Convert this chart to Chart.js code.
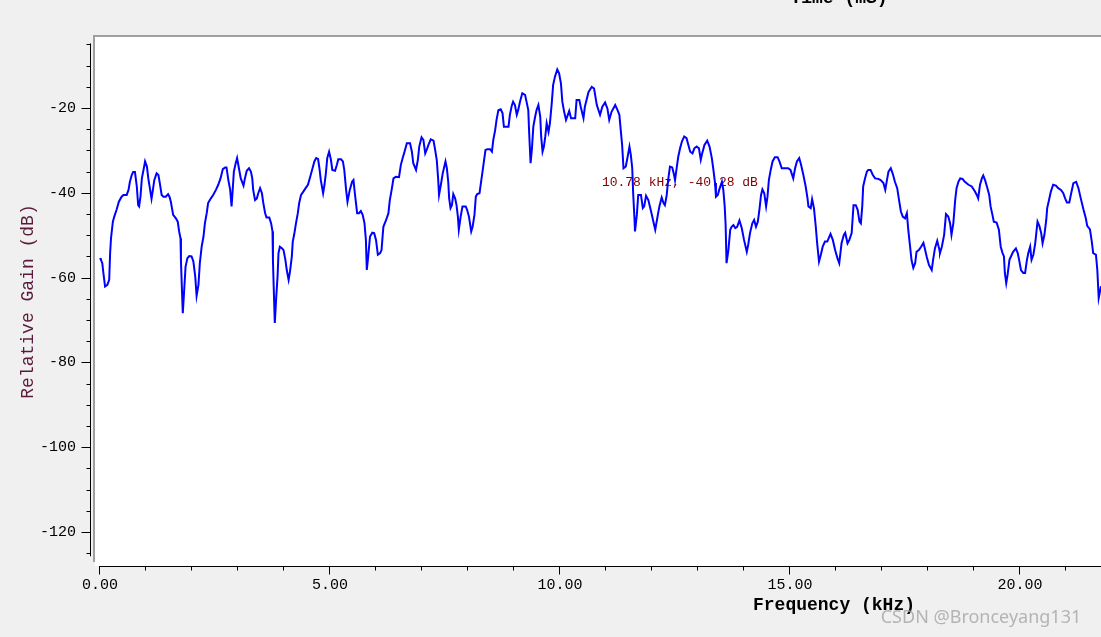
<!DOCTYPE html>
<html>
<head>
<meta charset="utf-8">
<title>Relative Gain vs Frequency</title>
<script src="https://cdn.jsdelivr.net/npm/chart.js@4.4.1/dist/chart.umd.min.js"></script>
<style>
  html, body { margin: 0; padding: 0; background: #f0f0f0; }
  #wrap { width: 1101px; height: 637px; }
</style>
</head>
<body>
<div id="wrap"><canvas id="spectrumChart" width="1101" height="637"></canvas></div>
<script>
// --- Data ---
const freqKHz = [
  0.00,0.02,0.05,0.07,0.11,0.16,0.20,0.22,0.24,0.28,0.31,0.36,0.41,0.47,0.51,0.58,0.62,0.65,0.69,0.72,
  0.76,0.80,0.83,0.85,0.88,0.91,0.96,0.98,1.02,1.05,1.09,1.12,1.15,1.18,1.23,1.27,1.30,1.34,1.38,1.43,
  1.48,1.51,1.54,1.59,1.65,1.69,1.72,1.75,1.76,1.78,1.80,1.83,1.86,1.90,1.94,1.99,2.03,2.07,2.10,2.14,
  2.17,2.21,2.25,2.28,2.32,2.35,2.41,2.46,2.52,2.57,2.62,2.67,2.72,2.75,2.79,2.83,2.86,2.88,2.91,2.95,
  2.98,3.02,3.06,3.12,3.15,3.19,3.24,3.28,3.31,3.33,3.37,3.41,3.44,3.48,3.52,3.55,3.59,3.62,3.68,3.72,
  3.75,3.76,3.78,3.80,3.83,3.86,3.88,3.91,3.96,3.99,4.03,4.06,4.10,4.13,4.17,4.19,4.22,4.26,4.30,4.33,
  4.37,4.42,4.47,4.52,4.57,4.62,4.66,4.70,4.74,4.77,4.80,4.85,4.88,4.91,4.94,4.98,5.02,5.05,5.11,5.15,
  5.18,5.24,
  5.28,5.31,5.35,5.38,5.43,5.48,5.51,5.54,5.59,5.63,5.67,5.71,5.75,5.78,5.80,5.83,5.87,5.92,5.96,6.00,
  6.04,6.09,6.12,6.16,6.22,6.27,6.30,6.34,6.38,6.43,6.50,6.54,6.58,6.62,6.67,6.74,6.78,6.81,6.87,6.91,
  6.94,6.99,7.03,7.07,7.10,7.14,7.19,7.25,7.28,7.32,7.35,7.37,7.41,7.45,7.51,7.54,7.57,7.59,7.62,7.65,
  7.68,7.72,7.75,7.78,7.80,7.84,7.88,7.95,7.98,8.02,8.07,8.10,8.14,8.17,8.20,8.25,8.28,8.31,8.35,8.38,
  8.42,8.48,8.52,8.55,8.59,8.62,8.66,8.71,8.75,8.78,8.84,8.88,8.91,8.95,8.98,9.02,9.06,9.09,9.13,9.18,
  9.24,9.28,9.31,9.33,9.36,9.39,9.42,9.46,9.49,9.53,9.57,9.59,9.62,9.65,9.68,9.71,9.75,9.78,9.82,9.85,
  9.89,9.94,9.98,10.02,10.05,10.09,10.13,10.17,10.20,10.24,10.33,10.36,10.42,10.45,
  10.51,10.54,10.62,10.69,10.74,10.80,10.87,10.92,10.98,11.03,11.07,11.12,11.20,11.25,11.29,11.32,11.35,11.38,11.43,11.47,
  11.51,11.54,11.57,11.59,11.62,11.63,11.67,11.70,11.76,11.80,11.83,11.87,11.92,11.98,12.03,12.07,12.12,12.16,12.21,12.25,
  12.28,12.32,12.35,12.39,12.44,12.48,12.50,12.54,12.57,12.61,12.65,12.70,12.75,12.79,12.83,12.88,12.92,12.97,13.02,13.06,
  13.09,13.14,13.20,13.25,13.30,13.33,13.37,13.39,13.43,13.46,13.52,13.55,13.58,13.60,13.62,13.66,13.70,13.73,13.77,13.81,
  13.85,13.90,13.95,14.00,14.06,14.09,14.13,14.18,14.22,14.26,14.30,14.33,14.37,14.40,14.44,14.48,14.51,14.54,14.58,14.62,
  14.67,14.73,14.77,14.82,14.96,15.01,15.07,15.11,15.15,15.20,15.24,15.29,15.34,15.38,15.40,15.45,15.48,15.52,15.56,15.59,
  15.63,15.67,15.71,15.76,15.81,15.88,15.93,15.98,16.03,16.07,
  16.12,16.17,16.20,16.25,16.29,16.34,16.38,16.43,16.47,16.51,16.54,16.57,16.59,16.63,16.67,16.70,16.75,16.80,16.85,16.92,
  16.97,17.03,17.07,17.10,17.14,17.19,17.23,17.28,17.33,17.37,17.41,17.45,17.50,17.54,17.57,17.61,17.64,17.68,17.72,17.75,
  17.80,17.85,17.90,17.93,17.97,18.02,18.08,18.11,18.15,18.20,18.24,18.26,18.30,18.35,18.39,18.44,18.48,18.51,18.55,18.59,
  18.62,18.66,18.70,18.75,18.80,18.88,18.95,19.02,19.06,19.09,19.13,19.17,19.20,19.24,19.28,19.33,19.36,19.40,19.43,19.49,
  19.54,19.58,19.62,19.65,19.67,19.70,19.73,19.77,19.82,19.85,19.91,19.95,19.98,20.02,20.07,20.11,20.15,20.18,20.22,20.25,
  20.29,20.33,20.38,20.42,20.46,20.49,20.53,20.57,20.59,20.63,20.67,20.72,20.78,20.83,20.89,20.94,20.98,21.02,21.07,21.12,
  21.16,21.22,21.27,21.32,21.38,21.43,21.46,21.52,21.56,21.59,21.65,21.68,21.71,21.76
];

const gainDb = [
  -55.4,-55.8,-56.6,-58.6,-62.1,-61.7,-60.5,-54.2,-50.6,-46.8,-45.6,-44.0,-42.1,-40.9,-40.5,-40.5,-39.3,-37.4,-35.8,-35.1,
  -35.1,-38.5,-42.9,-43.2,-40.9,-36.6,-33.8,-32.6,-33.8,-36.6,-39.3,-41.4,-39.3,-37.0,-35.4,-35.8,-37.7,-40.5,-40.9,-40.9,
  -40.3,-40.9,-42.1,-45.2,-46.0,-46.8,-49.1,-50.7,-56.2,-62.5,-68.4,-62.9,-57.4,-55.4,-54.9,-55.0,-56.2,-59.7,-64.3,-61.7,
  -56.6,-52.7,-50.3,-47.2,-44.8,-42.4,-41.3,-40.5,-39.3,-38.1,-36.6,-34.4,-34.0,-34.0,-37.0,-39.3,-43.2,-40.1,-35.0,-33.0,
  -31.8,-34.2,-36.6,-38.3,-36.6,-34.8,-34.2,-35.0,-36.6,-39.3,-41.7,-41.3,-40.1,-38.9,-40.1,-42.4,-44.8,-45.8,-45.8,-47.2,
  -49.1,-56.2,-63.7,-70.7,-64.8,-59.7,-54.2,-52.7,-53.1,-53.5,-55.8,-58.2,-60.5,-58.6,-55.0,-51.5,-49.9,-47.2,-44.8,-42.4,
  -40.5,-39.7,-38.9,-38.1,-36.2,-34.2,-32.6,-31.8,-32.0,-34.2,-37.0,-40.1,-38.1,-35.4,-31.8,-30.3,-32.2,-34.6,-34.8,-33.4,
  -32.1,-32.1,
  -32.6,-34.6,-39.3,-42.1,-39.3,-37.4,-37.0,-40.1,-44.8,-44.8,-44.3,-45.2,-47.2,-51.1,-58.2,-55.0,-50.3,-49.4,-49.5,-51.1,
  -54.6,-54.2,-53.5,-48.0,-46.4,-44.8,-41.7,-39.3,-36.6,-36.2,-36.3,-33.4,-31.8,-30.3,-28.3,-28.3,-30.3,-33.0,-34.6,-32.2,
  -29.1,-26.9,-27.5,-30.7,-29.9,-28.7,-27.4,-27.7,-29.5,-32.2,-36.6,-40.5,-38.1,-35.4,-32.6,-34.2,-37.4,-41.3,-43.6,-42.9,
  -40.3,-41.3,-42.9,-45.6,-48.7,-45.6,-43.2,-43.2,-44.0,-45.6,-49.1,-48.0,-45.2,-40.9,-40.3,-40.1,-37.7,-35.4,-32.2,-29.9,
  -29.7,-29.7,-30.3,-27.5,-25.2,-22.8,-20.5,-20.3,-21.2,-24.4,-24.4,-24.4,-21.6,-19.5,-18.5,-19.3,-21.6,-20.5,-18.5,-16.5,
  -16.9,-18.9,-20.5,-26.0,-33.0,-29.5,-24.4,-22.0,-20.5,-19.3,-22.0,-26.7,-30.3,-29.1,-26.7,-23.6,-25.6,-23.6,-18.9,-14.6,
  -12.6,-10.9,-11.8,-14.2,-18.5,-20.9,-22.8,-21.6,-20.7,-22.4,-22.4,-18.1,-18.1,-19.7,
  -22.4,-19.7,-16.2,-15.0,-15.4,-19.3,-21.6,-19.7,-18.7,-20.1,-22.8,-20.9,-19.3,-20.5,-21.6,-25.2,-28.7,-34.2,-33.8,-31.5,
  -29.1,-31.1,-34.2,-40.1,-46.4,-49.1,-45.2,-40.5,-40.5,-43.6,-43.2,-40.7,-41.7,-44.4,-46.8,-48.7,-45.6,-43.2,-41.1,-42.4,
  -42.9,-40.5,-37.0,-33.8,-34.0,-35.8,-37.0,-33.8,-31.5,-29.5,-27.9,-26.7,-27.1,-28.7,-30.3,-30.7,-29.5,-29.1,-29.5,-32.2,
  -30.7,-28.7,-27.7,-29.1,-31.8,-34.2,-37.7,-40.9,-40.5,-39.3,-37.4,-39.3,-43.2,-47.6,-56.6,-53.5,-48.7,-48.0,-47.6,-48.3,
  -48.0,-46.5,-48.3,-51.1,-53.9,-52.3,-49.5,-47.2,-46.4,-48.0,-46.8,-44.4,-40.5,-39.2,-40.1,-43.2,-40.9,-37.0,-34.6,-32.6,
  -31.6,-31.6,-32.6,-34.2,-34.2,-34.6,-36.6,-34.2,-32.6,-31.8,-33.4,-35.8,-38.5,-41.3,-43.2,-43.6,-41.5,-43.6,-48.0,-51.9,
  -56.2,-54.6,-52.7,-51.5,-51.5,-49.7,-51.1,-53.5,-55.4,-56.6,
  -51.9,-49.9,-49.4,-51.9,-51.1,-49.5,-42.9,-42.9,-44.0,-46.8,-47.2,-43.2,-38.5,-36.6,-35.0,-34.6,-34.6,-35.8,-36.6,-36.7,
  -37.0,-37.7,-39.3,-37.4,-35.0,-34.2,-35.4,-37.4,-38.9,-41.7,-44.4,-45.6,-46.0,-44.8,-48.7,-52.7,-55.8,-57.7,-56.6,-53.9,
  -53.5,-52.7,-51.8,-53.1,-55.0,-57.0,-58.2,-55.8,-53.1,-51.3,-53.1,-54.2,-52.7,-49.9,-45.0,-45.6,-47.2,-49.9,-47.2,-41.7,
  -38.9,-37.4,-36.6,-36.7,-37.4,-38.1,-38.5,-39.7,-40.5,-41.3,-38.1,-36.6,-35.9,-37.0,-38.5,-40.5,-43.2,-45.2,-46.8,-47.0,
  -48.7,-52.7,-54.2,-55.0,-58.9,-61.3,-59.3,-55.8,-54.6,-53.9,-53.1,-54.2,-55.8,-58.2,-58.9,-58.9,-55.8,-54.2,-52.7,-55.8,
  -54.6,-51.9,-46.8,-47.8,-49.5,-51.9,-49.9,-46.4,-43.6,-41.7,-39.7,-38.1,-38.3,-38.9,-39.3,-40.1,-41.3,-42.3,-42.3,-39.7,
  -37.7,-37.4,-38.9,-41.3,-44.0,-46.0,-47.8,-48.6,-51.5,-54.2,-54.6,-58.2,-64.8,-62.0
];

const xTickValues = [0, 5, 10, 15, 20];
const yTickValues = [-20, -40, -60, -80, -100, -120];

// Cursor readout shown on the plot
const cursorFreq = 10.78;
const cursorDb = -40.28;

if (freqKHz.length !== gainDb.length) {
  throw new Error('length mismatch ' + freqKHz.length + ' vs ' + gainDb.length);
}

document.addEventListener('DOMContentLoaded', () => {

  const tickFont = { family: 'Liberation Mono', size: 15 };

  // --- Frame, axes with minor ticks, labels ---
  const framePlugin = {
    id: 'frame',
    beforeDraw(chart) {
      const { ctx, chartArea: a } = chart;
      ctx.save();
      ctx.fillStyle = '#f0f0f0';
      ctx.fillRect(0, 0, chart.width, chart.height);
      ctx.fillStyle = '#ffffff';
      ctx.fillRect(a.left + 1, a.top, a.right - a.left, a.bottom - a.top);
      ctx.strokeStyle = '#a0a0a0';
      ctx.lineWidth = 2;
      ctx.beginPath();
      ctx.moveTo(a.left - 1, a.top - 1);
      ctx.lineTo(a.right, a.top - 1);
      ctx.moveTo(a.left, a.top - 1);
      ctx.lineTo(a.left, a.bottom - 4);
      ctx.stroke();
      ctx.restore();
    },
    beforeDatasetsDraw(chart) {
      const { ctx, scales } = chart;
      const px = scales.x.getPixelForValue(cursorFreq);
      const py = scales.y.getPixelForValue(cursorDb);
      ctx.save();
      ctx.font = '13px "Liberation Mono"';
      ctx.fillStyle = '#800000';
      ctx.textBaseline = 'middle';
      ctx.fillText(cursorFreq.toFixed(2) + ' kHz, ' + cursorDb.toFixed(2) + ' dB', px + 6, py - 11);
      ctx.restore();
    },
    afterDraw(chart) {
      const { ctx, scales: { x, y }, chartArea: a } = chart;
      ctx.save();
      ctx.strokeStyle = '#000000';
      ctx.lineWidth = 1;
      ctx.beginPath();
      // y axis
      const yAxisX = a.left - 3.5;
      ctx.moveTo(yAxisX, y.getPixelForValue(-5) - 1);
      ctx.lineTo(yAxisX, y.getPixelForValue(-125) + 3);
      for (let v = -5; v >= -125; v -= 5) {
        const py = Math.round(y.getPixelForValue(v)) + 0.5;
        const len = (v % 20 === 0) ? 9 : 4;
        ctx.moveTo(yAxisX - len, py);
        ctx.lineTo(yAxisX, py);
      }
      // x axis
      const xAxisY = a.bottom + 0.5;
      ctx.moveTo(x.getPixelForValue(0) - 1, xAxisY);
      ctx.lineTo(a.right, xAxisY);
      for (let v = 0; v <= x.max; v += 1) {
        const pxl = Math.round(x.getPixelForValue(v)) - 0.5;
        const len = (v % 5 === 0) ? 8 : 4;
        ctx.moveTo(pxl, xAxisY);
        ctx.lineTo(pxl, xAxisY + len);
      }
      ctx.stroke();

      // axis titles
      ctx.fillStyle = '#000000';
      ctx.font = 'bold 18px "Liberation Mono"';
      ctx.textAlign = 'center';
      ctx.textBaseline = 'middle';
      ctx.fillText('Frequency (kHz)', 834, 605);
      ctx.textBaseline = 'alphabetic';
      ctx.fillText('Time (mS)', 839, 3);

      // watermark
      ctx.font = '18px "Noto Sans"';
      ctx.fillStyle = 'rgba(165,165,165,0.8)';
      ctx.textAlign = 'center';
      ctx.textBaseline = 'middle';
      ctx.fillText('CSDN @Bronceyang131', 981, 618);
      ctx.restore();
    }
  };

  new Chart(document.getElementById('spectrumChart'), {
    type: 'line',
    data: {
      datasets: [{
        label: 'Relative Gain',
        data: freqKHz.map((f, i) => ({ x: f, y: gainDb[i] })),
        borderColor: '#0000ff',
        borderWidth: 2,
        pointRadius: 0,
        tension: 0,
        fill: false
      }]
    },
    options: {
      responsive: false,
      animation: false,
      devicePixelRatio: 1,
      layout: { padding: { top: 37, left: 0, right: 0, bottom: 0 } },
      plugins: { legend: { display: false }, tooltip: { enabled: false } },
      scales: {
        x: {
          type: 'linear',
          min: -6 / 46,
          max: 21.76,
          afterFit: s => { s.height = 71; },
          afterBuildTicks: s => { s.ticks = xTickValues.map(v => ({ value: v })); },
          grid: { display: false, drawTicks: false },
          border: { display: false },
          ticks: {
            autoSkip: false,
            maxRotation: 0,
            padding: 10,
            color: '#000000',
            font: tickFont,
            callback: v => v.toFixed(2)
          }
        },
        y: {
          type: 'linear',
          min: -128,
          max: -3.25,
          afterFit: s => { s.width = 94; },
          afterBuildTicks: s => { s.ticks = yTickValues.map(v => ({ value: v })); },
          grid: { display: false, drawTicks: false },
          border: { display: false },
          ticks: {
            autoSkip: false,
            padding: 18,
            color: '#000000',
            font: tickFont,
            callback: v => String(v)
          },
          title: {
            display: true,
            text: 'Relative Gain (dB)',
            color: '#5a1a3a',
            font: { family: 'Liberation Mono', size: 18 },
            padding: { top: 17, bottom: 0 }
          }
        }
      }
    },
    plugins: [framePlugin]
  });

});
</script>
</body>
</html>
